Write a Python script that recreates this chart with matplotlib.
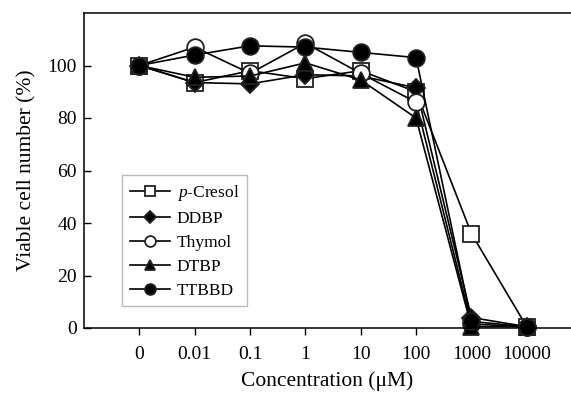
import matplotlib
matplotlib.use("Agg")
import matplotlib.pyplot as plt

plt.rcParams['font.family'] = ['Liberation Serif', 'DejaVu Serif']
plt.rcParams['mathtext.fontset'] = 'custom'
plt.rcParams['mathtext.rm'] = 'Liberation Serif'
plt.rcParams['mathtext.it'] = 'Liberation Serif:italic'

concentrations = ["0", "0.01", "0.1", "1", "10", "100", "1000", "10000"]
p_cresol = [100, 93.5, 98, 95, 98, 90, 36, 0.5]
ddbp = [100, 93.5, 93, 96.5, 96, 91.5, 4, 0.5]
thymol = [100, 107, 97, 108.5, 97, 86, 1.5, 0.5]
dtbp = [100, 95.5, 96, 101, 94.5, 80, 0.5, 0.5]
ttbbd = [100, 104, 107.5, 107, 105, 103, 2.5, 0.5]

series = [
    ("$\\it{p}$-Cresol", p_cresol, 's', 'white', 12),
    ("DDBP", ddbp, 'D', 'black', 9),
    ("Thymol", thymol, 'o', 'white', 12),
    ("DTBP", dtbp, '^', 'black', 11),
    ("TTBBD", ttbbd, 'o', 'black', 12),
]

fig = plt.figure(figsize=(5.71, 4.05), dpi=100)
ax = fig.add_axes([84/571, 77/405, 487/571, 315/405])

x = list(range(len(concentrations)))
for label, vals, mk, fc, ms in series:
    ax.plot(x, vals, color='black', lw=1.2, marker=mk, markersize=ms,
            markerfacecolor=fc, markeredgecolor='#222222', markeredgewidth=1.3,
            label=label, clip_on=False)

ax.set_xlim(-1, 7.8)
ax.set_ylim(0, 120)
ax.set_xticks(x)
ax.set_xticklabels(concentrations)
ax.set_yticks([0, 20, 40, 60, 80, 100])
ax.tick_params(axis='x', direction='out', length=5, width=1, labelsize=14, pad=8)
ax.tick_params(axis='y', direction='in', length=5, width=1, labelsize=14, pad=5)
ax.spines['right'].set_visible(False)
for s in ['left', 'top', 'bottom']:
    ax.spines[s].set_linewidth(1.1)

ax.set_xlabel("Concentration (\u03bcM)", fontsize=15.5, labelpad=6)
ax.set_ylabel("Viable cell number (%)", fontsize=15.5, labelpad=8)

leg = ax.legend(loc='upper left', bbox_to_anchor=(0.078, 0.486), borderaxespad=0,
                fontsize=12.5, markerscale=0.65, handlelength=2.3, labelspacing=0.45,
                fancybox=False, framealpha=1, edgecolor='#bbbbbb', borderpad=0.45,
                handletextpad=0.4)
leg.get_frame().set_linewidth(1.0)

fig.savefig("out.png", dpi=100)
